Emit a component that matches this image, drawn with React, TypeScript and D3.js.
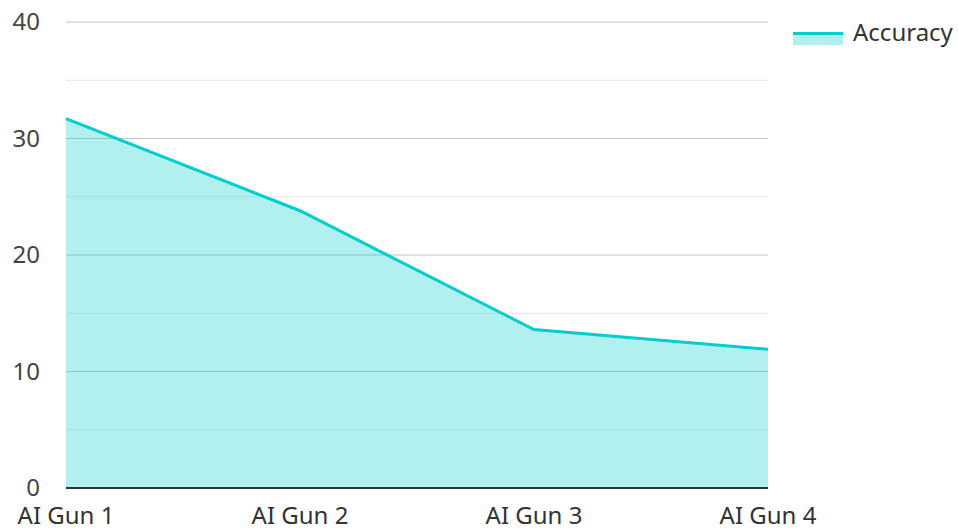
import * as d3 from "d3";
import { useEffect, useRef } from "react";

const categories = ["AI Gun 1", "AI Gun 2", "AI Gun 3", "AI Gun 4"];
const accuracy = [31.7, 23.8, 13.6, 11.9];
const majorTicks = [0, 10, 20, 30, 40];
const minorTicks = [5, 15, 25, 35];
const seriesName = "Accuracy";

const W = 958;
const H = 529;

export default function App() {
  const ref = useRef<SVGSVGElement | null>(null);

  useEffect(() => {
    if (!ref.current) return;
    const margin = { top: 22, right: 190, bottom: 41, left: 66 };
    const innerW = W - margin.left - margin.right;
    const innerH = H - margin.top - margin.bottom;
    const font = "'Noto Sans', 'Open Sans', sans-serif";

    const x = d3.scalePoint<string>().domain(categories).range([0, innerW]);
    const y = d3.scaleLinear().domain([0, 40]).range([innerH, 0]);

    const data = categories.map((c, i) => ({ c, v: accuracy[i] }));

    const svg = d3.select(ref.current);
    svg.selectAll("*").remove();
    const g = svg.append("g").attr("transform", `translate(${margin.left},${margin.top})`);

    g.selectAll(".minor")
      .data(minorTicks)
      .join("line")
      .attr("x1", 0)
      .attr("x2", innerW)
      .attr("y1", (d) => y(d))
      .attr("y2", (d) => y(d))
      .attr("stroke", "#e6e6e6")
      .attr("stroke-width", 1);

    g.selectAll(".major")
      .data(majorTicks.filter((d) => d > 0))
      .join("line")
      .attr("x1", 0)
      .attr("x2", innerW)
      .attr("y1", (d) => y(d))
      .attr("y2", (d) => y(d))
      .attr("stroke", "#c4c4c4")
      .attr("stroke-width", 1);

    const area = d3
      .area<(typeof data)[0]>()
      .x((d) => x(d.c) ?? 0)
      .y0(innerH)
      .y1((d) => y(d.v));
    const line = d3
      .line<(typeof data)[0]>()
      .x((d) => x(d.c) ?? 0)
      .y((d) => y(d.v));

    g.append("path").datum(data).attr("fill", "#00cccc").attr("fill-opacity", 0.3).attr("d", area);
    g.append("path")
      .datum(data)
      .attr("fill", "none")
      .attr("stroke", "#00cdcd")
      .attr("stroke-width", 3)
      .attr("d", line);

    g.append("line")
      .attr("x1", 0)
      .attr("x2", innerW)
      .attr("y1", innerH)
      .attr("y2", innerH)
      .attr("stroke", "#333")
      .attr("stroke-width", 2);

    g.selectAll(".ylab")
      .data(majorTicks)
      .join("text")
      .attr("x", -26)
      .attr("y", (d) => y(d))
      .attr("dy", "0.35em")
      .attr("text-anchor", "end")
      .attr("font-family", font)
      .attr("font-size", 24)
      .attr("fill", "#444")
      .text((d) => d);

    g.selectAll(".xlab")
      .data(categories)
      .join("text")
      .attr("x", (d) => x(d) ?? 0)
      .attr("y", innerH + 36)
      .attr("text-anchor", "middle")
      .attr("font-family", font)
      .attr("font-size", 24)
      .attr("fill", "#333")
      .text((d) => d);

    const lg = svg.append("g").attr("transform", "translate(793,32)");
    lg.append("rect").attr("x", 0).attr("y", 1).attr("width", 50).attr("height", 12).attr("fill", "#00cccc").attr("fill-opacity", 0.3);
    lg.append("rect").attr("x", 0).attr("y", 0).attr("width", 50).attr("height", 3).attr("fill", "#00cdcd");
    lg.append("text")
      .attr("x", 60)
      .attr("y", 1)
      .attr("dy", "0.35em")
      .attr("font-family", font)
      .attr("font-size", 24)
      .attr("fill", "#333")
      .text(seriesName);
  }, []);

  return (
    <svg
      ref={ref}
      width={W}
      height={H}
      style={{ position: "absolute", left: 0, top: 0, display: "block" }}
    />
  );
}
